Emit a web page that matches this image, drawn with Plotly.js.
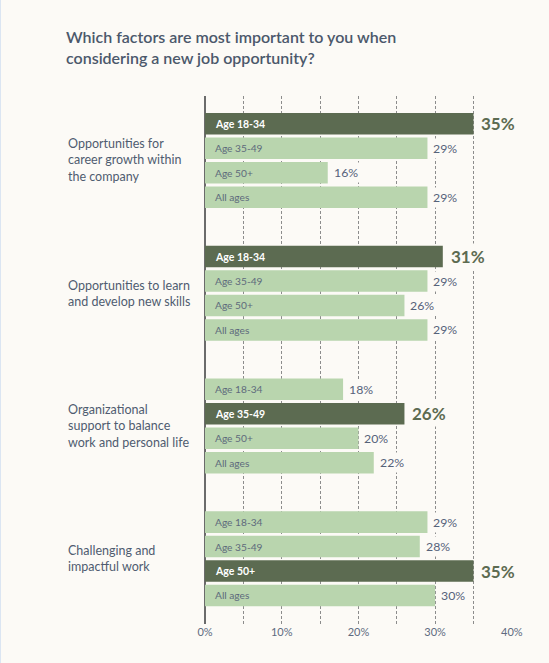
<!DOCTYPE html>
<html>
<head>
<meta charset="utf-8">
<script src="https://cdn.plot.ly/plotly-3.0.1.min.js"></script>
<style>
  html, body { margin: 0; padding: 0; background: #fcfaf6; }
  #wrap { position: relative; width: 549px; height: 663px; }
  #chart { width: 549px; height: 663px; }
  #edge { position: absolute; left: 0; top: 0; width: 1px; height: 663px; background: #dbe5f2; }
</style>
</head>
<body>
<div id="wrap"><div id="chart"></div><div id="edge"></div></div>
<script>
// ---- data ----
const categories = [
  "Opportunities for<br>career growth within<br>the company",
  "Opportunities to learn<br>and develop new skills",
  "Organizational<br>support to balance<br>work and personal life",
  "Challenging and<br>impactful work"
];
const ageGroups = ["Age 18-34", "Age 35-49", "Age 50+", "All ages"];
const age18to34 = [35, 31, 18, 29];
const age35to49 = [29, 29, 26, 28];
const age50plus = [16, 26, 20, 35];
const allAges   = [29, 29, 22, 30];
const highlightedGroup = [0, 0, 1, 2];   // index into ageGroups per category
const tickValues = [0, 10, 20, 30, 40];

// ---- styles / layout constants ----
const BG = "#fcfaf6";
const DARK = "#5c6b51";
const LIGHT = "#b9d5ae";
const TEXT = "#56627a";
const FONT = "Lato, 'Open Sans', sans-serif";
const GROUP_STEP = 5.43;
const BAR_WIDTH = 0.88;

const series = [age18to34, age35to49, age50plus, allAges];

const xs = [], ys = [], colors = [], annotations = [];
categories.forEach((cat, g) => {
  ageGroups.forEach((age, i) => {
    const v = series[i][g];
    const y = g * GROUP_STEP + i;
    const hi = highlightedGroup[g] === i;
    xs.push(v); ys.push(y); colors.push(hi ? DARK : LIGHT);
    // label inside bar
    annotations.push({
      x: 0, y: y, xref: "x", yref: "y", xanchor: "left", yanchor: "middle",
      xshift: 8, showarrow: false, text: age,
      font: { family: FONT, size: hi ? 10.5 : 10.2, color: hi ? "#ffffff" : "#5e6a7c", weight: hi ? 700 : 400 }
    });
    // value label
    annotations.push({
      x: v, y: y, xref: "x", yref: "y", xanchor: "left", yanchor: "middle",
      xshift: hi ? 5 : 3, showarrow: false, text: v + "%",
      bgcolor: BG, borderpad: 2,
      font: { family: FONT, size: hi ? 17 : 12.3, color: hi ? DARK : TEXT, weight: hi ? 700 : 400 }
    });
  });
  annotations.push({
    x: (66 - 205) / 307, xref: "paper", y: g * GROUP_STEP + 1.5, yref: "y",
    xanchor: "left", yanchor: "middle", align: "left", showarrow: false,
    text: cat, font: { family: FONT, size: 12.5, color: "#4f5c70" }
  });
});

const trace = {
  type: "bar", orientation: "h", x: xs, y: ys, width: BAR_WIDTH,
  marker: { color: colors, line: { width: 0 } },
  hoverinfo: "skip", cliponaxis: false
};

const layout = {
  width: 549, height: 663,
  paper_bgcolor: BG, plot_bgcolor: BG,
  margin: { l: 205, r: 37, t: 96, b: 39 },
  showlegend: false,
  font: { family: FONT, color: TEXT },
  title: {
    text: "Which factors are most important to you when<br>considering a new job opportunity?",
    xref: "container", yref: "container", x: 66 / 549, xanchor: "left",
    y: 1 - 43 / 663, yanchor: "top",
    font: { family: FONT, size: 16, color: "#4b586b", weight: 600 }
  },
  xaxis: {
    range: [0, 40.02], tickvals: tickValues, ticktext: tickValues.map(t => t + "%"),
    showgrid: true, gridcolor: "#8c8c8c", gridwidth: 1, griddash: "3px,2px",
    minor: { dtick: 5, tick0: 0, showgrid: true, gridcolor: "#8c8c8c", gridwidth: 1, griddash: "3px,2px" },
    zeroline: true, zerolinecolor: "#6b6b6b", zerolinewidth: 1.5,
    showline: false, ticks: "", fixedrange: true,
    tickfont: { family: FONT, size: 11, color: "#5e6a80" }
  },
  yaxis: {
    range: [20.456, -1.137], visible: false, showgrid: false, zeroline: false, fixedrange: true
  },
  annotations: annotations
};

Plotly.newPlot("chart", [trace], layout, { displayModeBar: false, staticPlot: true });
</script>
</body>
</html>
